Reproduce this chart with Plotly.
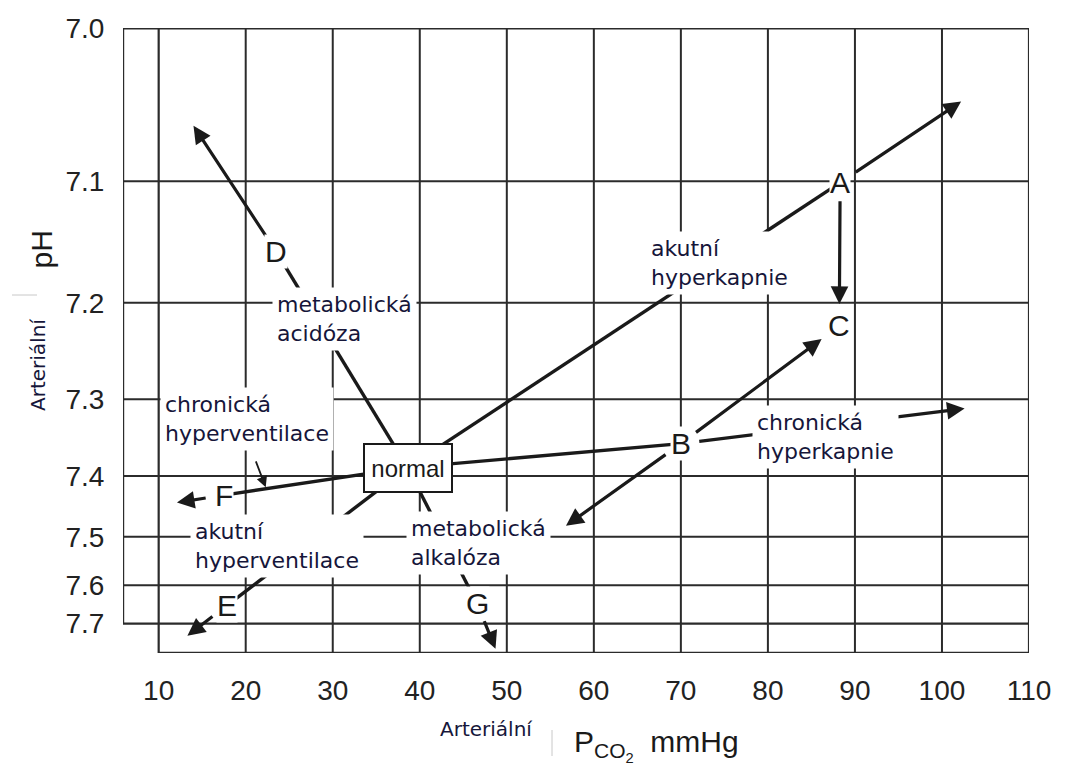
import numpy as np
import plotly.graph_objects as go

# ---------------- data ----------------
PCO2_TICKS = [10, 20, 30, 40, 50, 60, 70, 80, 90, 100, 110]
PH_TICKS = [7.0, 7.1, 7.2, 7.3, 7.4, 7.5, 7.6, 7.7]
PH_TICK_TEXT = ["7.0", "7.1", "7.2", "7.3", "7.4", "7.5", "7.6", "7.7"]

NORMAL_PCO2 = 38.6
NORMAL_PH = 7.388
NORMAL_TEXT = "normal"

POINT_NAMES = ["A", "B", "C", "D", "E", "F", "G"]
POINT_PCO2 = [88.3, 70.0, 88.2, 23.5, 17.9, 17.5, 46.6]
POINT_PH = [7.101, 7.355, 7.222, 7.155, 7.649, 7.429, 7.646]

# plain segments from the normal point to these points
FROM_NORMAL = ["A", "B", "D", "E", "F", "G"]

# arrows: start point -> end (either another point or free end)
ARROW_START = ["D", "A", "A", "B", "B", "B", "F", "E", "G"]
ARROW_END = ["", "", "C", "C", "", "", "", "", ""]
ARROW_END_PCO2 = [14.0, 102.2, 88.2, 88.2, 102.6, 56.8, 12.1, 13.3, 48.7]
ARROW_END_PH = [7.061, 7.045, 7.222, 7.222, 7.311, 7.480, 7.441, 7.737, 7.781]

LABEL_TEXT = ["metabolická<br>acidóza", "akutní<br>hyperkapnie",
              "chronická<br>hyperkapnie", "chronická<br>hyperventilace",
              "akutní<br>hyperventilace", "metabolická<br>alkalóza"]
LABEL_PCO2 = [23.5, 66.4, 78.6, 10.6, 14.0, 38.9]
LABEL_PH = [7.215, 7.165, 7.346, 7.324, 7.518, 7.511]

LEADER_PCO2 = [21.1, 22.3]
LEADER_PH = [7.377, 7.417]

X_RANGE = [5.90, 110.0]
H_RANGE = [16.0, 100.0]


def h(ph):
    """pH -> [H+] (nmol/l); the chart's vertical scale is linear in [H+]."""
    return 10 ** (9 - np.asarray(ph, dtype=float))


INK = "#1a1a1a"
GRID = "#2b2b2b"
LABEL_INK = "#16163a"

W, H = 1072, 769
ML, MR, MT, MB = 123, 43, 28, 116
PW, PH_ = W - ML - MR, H - MT - MB


def paper_x(px):
    return (px - ML) / PW


def paper_y(py):
    return (H - MB - py) / PH_


pts = {n: (x, p) for n, x, p in zip(POINT_NAMES, POINT_PCO2, POINT_PH)}

fig = go.Figure()

# lines from the normal point
for name in FROM_NORMAL:
    x, p = pts[name]
    fig.add_trace(go.Scatter(
        x=[NORMAL_PCO2, x], y=h([NORMAL_PH, p]), mode="lines",
        line=dict(color=INK, width=3.4), hoverinfo="skip", showlegend=False))

shapes = []
# vertical grid lines
for v in PCO2_TICKS:
    shapes.append(dict(type="line", xref="x", yref="y", x0=v, x1=v,
                       y0=H_RANGE[0], y1=H_RANGE[1],
                       line=dict(color=GRID, width=2.2 if v in (10, 110) else 2),
                       layer="below"))
# horizontal grid lines (extend to the left frame)
for p in PH_TICKS:
    shapes.append(dict(type="line", xref="x", yref="y", x0=X_RANGE[0], x1=110,
                       y0=float(h(p)), y1=float(h(p)),
                       line=dict(color=GRID, width=2.2 if p in (7.0, 7.7) else 2),
                       layer="below"))
# left frame and bottom frame
shapes.append(dict(type="line", xref="x", yref="y", x0=X_RANGE[0], x1=X_RANGE[0],
                   y0=float(h(PH_TICKS[-1])), y1=float(h(PH_TICKS[0])),
                   line=dict(color=GRID, width=2.4), layer="below"))
shapes.append(dict(type="line", xref="x", yref="y", x0=10, x1=110,
                   y0=H_RANGE[0], y1=H_RANGE[0],
                   line=dict(color=GRID, width=2.4), layer="below"))
# small grey separators in the axis titles
shapes.append(dict(type="line", xref="paper", yref="paper",
                   x0=paper_x(12), x1=paper_x(37), y0=paper_y(295), y1=paper_y(295),
                   line=dict(color="#c8c8c8", width=1)))
shapes.append(dict(type="line", xref="paper", yref="paper",
                   x0=paper_x(552), x1=paper_x(552), y0=paper_y(730), y1=paper_y(756),
                   line=dict(color="#c8c8c8", width=1)))

ann = []
# arrows
for s, e, ex, ep in zip(ARROW_START, ARROW_END, ARROW_END_PCO2, ARROW_END_PH):
    sx, sp = pts[s]
    ann.append(dict(x=ex, y=float(h(ep)), ax=sx, ay=float(h(sp)),
                    xref="x", yref="y", axref="x", ayref="y", text="",
                    showarrow=True, arrowhead=2, arrowsize=1.1, arrowwidth=3.2,
                    arrowcolor=INK, startstandoff=17,
                    standoff=22 if e else 0))
# leader from the chronic hyperventilation label
ann.append(dict(x=LEADER_PCO2[1], y=float(h(LEADER_PH[1])),
                ax=LEADER_PCO2[0], ay=float(h(LEADER_PH[0])),
                xref="x", yref="y", axref="x", ayref="y", text="",
                showarrow=True, arrowhead=2, arrowsize=1.2, arrowwidth=1.8,
                arrowcolor=INK))
# label boxes
for t, x, p in zip(LABEL_TEXT, LABEL_PCO2, LABEL_PH):
    ann.append(dict(x=x, y=float(h(p)), xref="x", yref="y", text=t,
                    showarrow=False, xanchor="left", yanchor="middle",
                    xshift=-4, align="left", bgcolor="white", borderpad=4,
                    font=dict(family="DejaVu Sans", size=22, color=LABEL_INK)))
# letters
for n in POINT_NAMES:
    x, p = pts[n]
    ann.append(dict(x=x, y=float(h(p)), xref="x", yref="y", text=n,
                    showarrow=False, bgcolor="white", borderpad=0,
                    font=dict(family="Liberation Sans", size=30, color=INK)))
# normal box
ann.append(dict(x=NORMAL_PCO2, y=float(h(NORMAL_PH)), xref="x", yref="y",
                text=NORMAL_TEXT, showarrow=False, bgcolor="white",
                bordercolor=INK, borderwidth=2, borderpad=0, width=86, height=46,
                font=dict(family="Liberation Sans", size=24, color=INK)))
# axis titles
ann.append(dict(x=paper_x(486), y=paper_y(743), xref="paper", yref="paper",
                text="Arteriální", showarrow=False,
                font=dict(family="DejaVu Sans", size=20, color=LABEL_INK)))
ann.append(dict(x=paper_x(572), y=paper_y(745), xref="paper", yref="paper",
                text="P<sub>CO<sub>2</sub></sub>  mmHg", showarrow=False,
                xanchor="left", yanchor="middle",
                font=dict(family="Liberation Sans", size=30, color=INK)))
ann.append(dict(x=paper_x(23), y=paper_y(250), xref="paper", yref="paper",
                text="pH", showarrow=False, textangle=-90,
                font=dict(family="Liberation Sans", size=30, color=INK)))
ann.append(dict(x=paper_x(24), y=paper_y(365), xref="paper", yref="paper",
                text="Arteriální", showarrow=False, textangle=-90,
                font=dict(family="DejaVu Sans", size=20, color=LABEL_INK)))

fig.update_layout(
    width=W, height=H, autosize=False,
    margin=dict(l=ML, r=MR, t=MT, b=MB, pad=0),
    paper_bgcolor="white", plot_bgcolor="white",
    showlegend=False, shapes=shapes, annotations=ann,
    xaxis=dict(range=X_RANGE, showgrid=False, zeroline=False, showline=False,
               tickmode="array", tickvals=PCO2_TICKS,
               ticktext=[str(v) for v in PCO2_TICKS],
               ticks="outside", ticklen=12, tickcolor="rgba(0,0,0,0)",
               tickfont=dict(family="Liberation Sans", size=28, color="#222"),
               automargin=False, fixedrange=True),
    yaxis=dict(range=[H_RANGE[0], H_RANGE[1] + 0.05], showgrid=False,
               zeroline=False, showline=False,
               tickmode="array", tickvals=[float(v) for v in h(PH_TICKS)],
               ticktext=PH_TICK_TEXT,
               ticks="outside", ticklen=12, tickcolor="rgba(0,0,0,0)",
               tickfont=dict(family="Liberation Sans", size=28, color="#222"),
               automargin=False, fixedrange=True),
)

fig.write_html("out.html")
